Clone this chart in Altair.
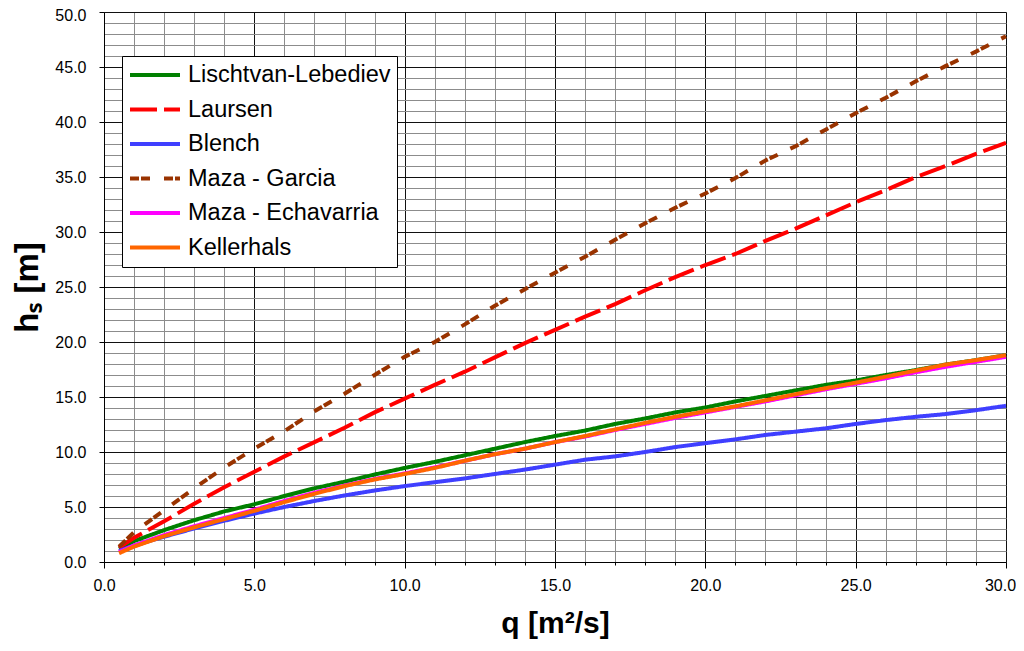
import altair as alt
import pandas as pd

q = [0.5, 1, 2, 3, 4, 5, 6, 7, 8, 9, 10, 11, 12, 13, 14, 15, 16, 17, 18, 19, 20,
     21, 22, 23, 24, 25, 26, 27, 28, 29, 30]

lischtvan = [1.2, 1.9, 2.9, 3.8, 4.6, 5.25, 6.0, 6.7, 7.3, 7.95, 8.55, 9.1, 9.7, 10.3, 10.9,
             11.45, 11.95, 12.55, 13.05, 13.6, 14.05, 14.6, 15.1, 15.6, 16.1, 16.5, 17.0,
             17.45, 17.95, 18.35, 18.8]
laursen = [1.3, 2.2, 3.7, 5.3, 6.8, 8.2, 9.6, 10.9, 12.2, 13.6, 14.85, 16.1, 17.3, 18.6, 19.9,
           21.1, 22.3, 23.45, 24.7, 25.9, 27.0, 28.0, 29.2, 30.3, 31.5, 32.7, 33.8, 35.0,
           36.0, 37.1, 38.1]
blench = [1.0, 1.5, 2.3, 3.05, 3.75, 4.4, 5.0, 5.55, 6.05, 6.5, 6.9, 7.25, 7.6, 8.0, 8.4,
          8.85, 9.3, 9.6, 10.0, 10.45, 10.8, 11.15, 11.55, 11.85, 12.15, 12.55, 12.9, 13.2,
          13.45, 13.8, 14.2]
maza_garcia = [1.4, 2.7, 4.7, 6.7, 8.6, 10.3, 11.9, 13.7, 15.3, 17.0, 18.65, 20.0, 21.6, 23.3,
               24.8, 26.3, 27.75, 29.3, 30.8, 32.2, 33.5, 34.9, 36.5, 37.8, 39.3, 40.8, 42.2,
               43.7, 45.1, 46.4, 47.8]
maza_echavarria = [0.9, 1.5, 2.45, 3.25, 4.0, 4.75, 5.55, 6.3, 6.95, 7.55, 8.05, 8.6, 9.2, 9.8,
                   10.3, 10.9, 11.4, 12.0, 12.55, 13.1, 13.6, 14.1, 14.6, 15.15, 15.7, 16.2,
                   16.7, 17.25, 17.75, 18.2, 18.65]
kellerhals = [0.8, 1.4, 2.35, 3.15, 3.9, 4.65, 5.45, 6.2, 6.9, 7.5, 8.0, 8.55, 9.2, 9.8, 10.3,
              10.9, 11.45, 12.05, 12.65, 13.2, 13.7, 14.15, 14.7, 15.25, 15.8, 16.3, 16.85,
              17.4, 17.95, 18.35, 18.8]

names = ["Lischtvan-Lebediev", "Laursen", "Blench", "Maza - Garcia",
         "Maza - Echavarria", "Kellerhals"]
series_values = [lischtvan, laursen, blench, maza_garcia, maza_echavarria, kellerhals]
colors = ["#008000", "#FF0000", "#3F3FFF", "#993300", "#FF00FF", "#FF6600"]
dashes = [[1, 0], [27, 7], [1, 0], [9, 2, 9, 14], [1, 0], [1, 0]]
widths = [4, 4, 4, 5, 4, 4]

rows = []
for i, (name, vals) in enumerate(zip(names, series_values)):
    for xv, yv in zip(q, vals):
        rows.append({"q": xv, "hs": yv, "series": name, "order": i})
df = pd.DataFrame(rows)

FONT = "Liberation Sans"

x_axis = alt.Axis(
    values=list(range(0, 31)),
    labelExpr="datum.value % 5 === 0 ? format(datum.value, '.1f') : ''",
    labelOverlap=False, labelFlush=False,
    labelOffset={"condition": {"test": "datum.value === 30", "value": -6}, "value": 0},
    labelFont=FONT, labelFontSize=16, labelColor="black", labelPadding=9,
    tickSize={"condition": {"test": "datum.value % 5 === 0", "value": 6}, "value": 3},
    tickColor="black",
    gridColor={"condition": {"test": "datum.value % 5 === 0", "value": "#111111"}, "value": "#8c8c8c"},
    gridWidth=1,
    domainColor="black",
    title="q [m²/s]", titleFont=FONT, titleFontSize=30, titleFontWeight="bold",
    titleColor="black", titlePadding=15,
)
y_axis = alt.Axis(
    values=list(range(0, 51)),
    labelExpr="datum.value % 5 === 0 ? format(datum.value, '.1f') : ''",
    labelOverlap=False, labelFlush=False,
    labelOffset={"condition": {"test": "datum.value === 50", "value": 3}, "value": 0},
    labelFont=FONT, labelFontSize=16, labelColor="black", labelPadding=13,
    tickSize={"condition": {"test": "datum.value % 5 === 0", "value": 5}, "value": 0},
    tickColor="black",
    gridColor={"condition": {"test": "datum.value % 5 === 0", "value": "#111111"}, "value": "#8c8c8c"},
    gridWidth=1,
    domainColor="black",
    title="hₛ [m]", titleFont=FONT, titleFontSize=33, titleFontWeight="bold",
    titleColor="black", titlePadding=10,
)

legend = alt.Legend(
    title=None, orient="none", legendX=18, legendY=44,
    symbolType="stroke", symbolSize=2500, symbolStrokeWidth=4,
    labelFont=FONT, labelFontSize=23.5, labelColor="black", labelLimit=400,
    strokeColor="black", fillColor="white", padding=6, rowPadding=8.5, labelOffset=6,
    clipHeight=26, cornerRadius=0,
)

chart = alt.Chart(df).mark_line(strokeCap="butt").encode(
    x=alt.X("q:Q", scale=alt.Scale(domain=[0, 30], nice=False), axis=x_axis),
    y=alt.Y("hs:Q", scale=alt.Scale(domain=[0, 50], nice=False), axis=y_axis),
    color=alt.Color("series:N", scale=alt.Scale(domain=names, range=colors), sort=names,
                    legend=legend),
    strokeDash=alt.StrokeDash("series:N", scale=alt.Scale(domain=names, range=dashes),
                              sort=names, legend=legend),
    strokeWidth=alt.StrokeWidth("series:N", scale=alt.Scale(domain=names, range=widths),
                                legend=None),
    order=alt.Order("q:Q"),
).properties(
    width=902, height=550,
    autosize=alt.AutoSizeParams(type="none"),
    padding={"left": 96, "top": 4, "right": 10, "bottom": 81},
).configure_view(stroke=None)

chart.save("out.html", embed_options={"renderer": "svg", "actions": False})
